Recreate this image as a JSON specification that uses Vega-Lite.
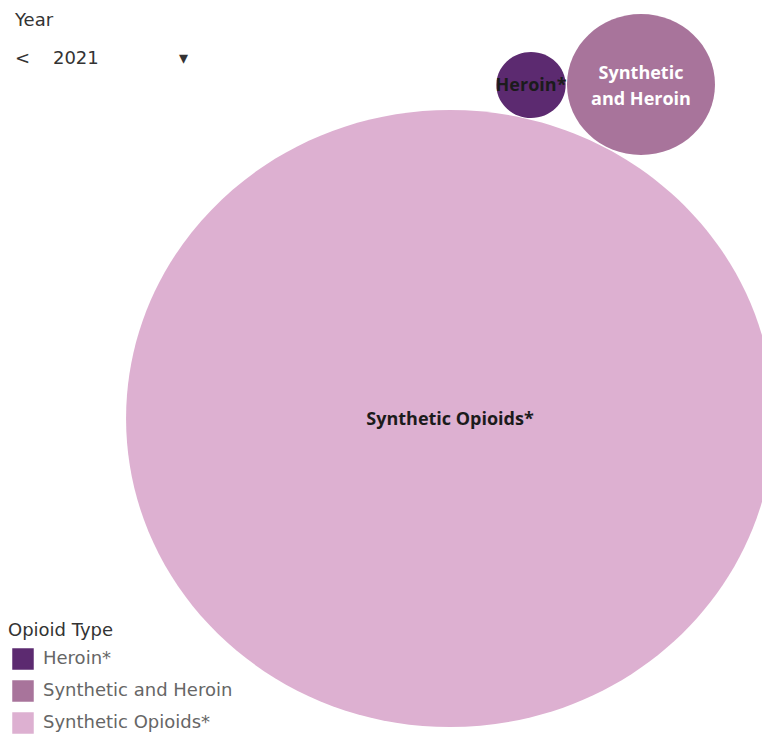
{
  "$schema": "https://vega.github.io/schema/vega-lite/v6.json",
  "width": 762,
  "height": 736,
  "autosize": {"type": "none"},
  "padding": 0,
  "background": "white",
  "title": {
    "text": "Year",
    "subtitle": "\u00a0<\u00a0\u00a0\u00a0\u00a02021\u00a0\u00a0\u00a0\u00a0\u00a0\u00a0\u00a0\u00a0\u00a0\u00a0\u00a0\u00a0\u00a0\u00a0\u25BE",
    "anchor": "start",
    "frame": "group",
    "orient": "top",
    "offset": -68,
    "dx": 15,
    "font": "DejaVu Sans",
    "fontSize": 18,
    "fontWeight": "normal",
    "color": "#333333",
    "subtitleFont": "DejaVu Sans",
    "subtitleFontSize": 18,
    "subtitleColor": "#333333",
    "subtitlePadding": 20
  },
  "data": {
    "values": [
      {"type": "Synthetic Opioids*", "label": "Synthetic Opioids*", "value": 2185},
      {"type": "Synthetic and Heroin", "label": "Synthetic\nand Heroin", "value": 114},
      {"type": "Heroin*", "label": "Heroin*", "value": 25}
    ]
  },
  "layer": [
    {
      "mark": {
        "type": "point",
        "filled": true,
        "opacity": 1,
        "strokeWidth": 0,
        "shape": "M 1.05 0 C 1.05 0.5523 0.5799 1 0 1 C -0.5799 1 -1.05 0.5523 -1.05 0 C -1.05 -0.5523 -0.5799 -1 0 -1 C 0.5799 -1 1.05 -0.5523 1.05 0 Z"
      },
      "encoding": {
        "x": {"field": "value", "type": "quantitative", "axis": null,
              "scale": {"domain": [25, 114, 2185], "range": [531, 641, 450], "nice": false, "zero": false}},
        "y": {"field": "value", "type": "quantitative", "axis": null,
              "scale": {"domain": [25, 114, 2185], "range": [85, 84.5, 418.5], "nice": false, "zero": false}},
        "size": {"field": "value", "type": "quantitative", "legend": null,
                 "scale": {"type": "linear", "zero": true, "domain": [0, 2185], "range": [0, 380714]}},
        "color": {
          "field": "type", "type": "nominal",
          "scale": {"domain": ["Heroin*", "Synthetic and Heroin", "Synthetic Opioids*"],
                    "range": ["#5c2a70", "#a8749b", "#ddb0d1"]},
          "legend": {
            "title": "Opioid Type",
            "orient": "none",
            "legendX": 8,
            "legendY": 622,
            "symbolType": "square",
            "symbolSize": 462,
            "symbolStrokeWidth": 0,
            "symbolOpacity": 1,
            "symbolOffset": 4,
            "labelFont": "DejaVu Sans",
            "labelFontSize": 18,
            "labelColor": "#666666",
            "labelOffset": 9,
            "labelLimit": 400,
            "titleFont": "DejaVu Sans",
            "titleFontSize": 18,
            "titleFontWeight": "normal",
            "titleColor": "#333333",
            "titlePadding": 8,
            "rowPadding": 10
          }
        }
      }
    },
    {
      "transform": [{"filter": "datum.type !== 'Synthetic and Heroin'"}],
      "mark": {"type": "text", "font": "Open Sans", "fontWeight": "bold", "fontSize": 18, "color": "#1b1b1b", "dy": 1},
      "encoding": {
        "x": {"field": "value", "type": "quantitative"},
        "y": {"field": "value", "type": "quantitative"},
        "text": {"field": "label"}
      }
    },
    {
      "transform": [{"filter": "datum.type === 'Synthetic and Heroin'"}],
      "mark": {"type": "text", "font": "Open Sans", "fontWeight": "bold", "fontSize": 18, "color": "#ffffff", "lineBreak": "\n", "lineHeight": 26, "dy": -11},
      "encoding": {
        "x": {"field": "value", "type": "quantitative"},
        "y": {"field": "value", "type": "quantitative"},
        "text": {"field": "label"}
      }
    }
  ],
  "config": {"view": {"stroke": null}}
}
